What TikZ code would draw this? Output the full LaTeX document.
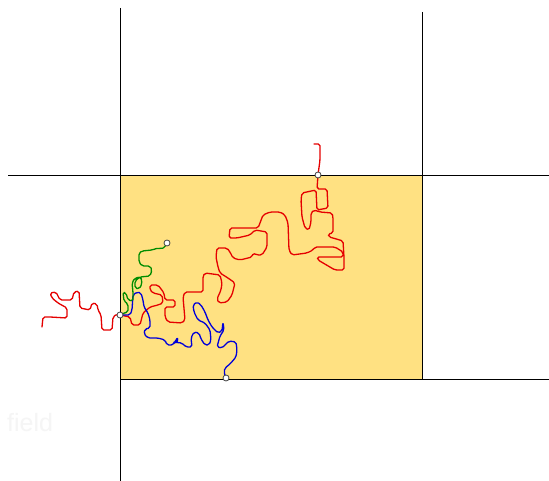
\documentclass[tikz,border=0pt]{standalone}
\usepackage{fontspec}
\setsansfont{Liberation Sans}
\begin{document}
\begin{tikzpicture}[x=1pt,y=-1pt,
  axis/.style={draw=black,line width=0.9pt},
  walk/.style={line width=1.3pt,rounded corners=1.8pt,line join=round,line cap=round},
  dot/.style={circle,draw=black!75,fill=white,line width=0.8pt,inner sep=0pt,minimum size=6pt}]
\useasboundingbox (0,0) rectangle (549,481);
\fill[white] (0,0) rectangle (549,481);
% field region
\filldraw[fill={rgb,255:red,255;green,225;blue,130},draw=black!70,line width=0.6pt] (120,175) rectangle (422,379);
% lines
\draw[axis] (120,8) -- (120,481);
\draw[axis] (422,12) -- (422,379);
\draw[axis] (8,175) -- (549,175);
\draw[axis] (120,379) -- (549,379);
% faint label
\node[anchor=base west,inner sep=0pt,text=black!4,font=\sffamily\fontsize{25}{28}\selectfont] (lbl) at (7,431) {field};
% red walk
\draw[walk,red!90!black] (314,144) -- (320,144) -- (320,160) -- (318,175) -- (317,189) -- (327,189) -- (328,208) -- (317,210) -- (316,190) -- (302,193) -- (301,200) -- (302,217) -- (305,228) -- (309,230) -- (311,222) -- (311,213) -- (314,210) -- (320,212) -- (332,213) -- (333,217) -- (333,233) -- (328,234) -- (329,237) -- (333,238) -- (343,241) -- (344,257) -- (344,270) -- (335,270) -- (318,260) -- (317,257) -- (343,257) -- (343,252) -- (335,247) -- (315,247) -- (313,250) -- (307,253) -- (292,255) -- (289,250) -- (288,223) -- (285,215) -- (280,212) -- (270,212) -- (263,215) -- (260,223) -- (258,228) -- (230,228) -- (229,238) -- (237,238) -- (250,235) -- (255,230) -- (267,232) -- (267,247) -- (262,255) -- (257,255) -- (253,253) -- (252,257) -- (240,260) -- (233,258) -- (230,252) -- (227,248) -- (217,248) -- (216,257) -- (218,267) -- (220,273) -- (228,278) -- (235,283) -- (232,295) -- (227,302) -- (219,303) -- (217,299) -- (221,290) -- (222,283) -- (220,275) -- (205,273) -- (203,276) -- (203,292) -- (185,292) -- (183,297) -- (185,320) -- (182,323) -- (168,322) -- (165,317) -- (165,307) -- (175,307) -- (175,300) -- (165,300) -- (164,293) -- (158,285) -- (150,285) -- (150,290) -- (153,293) -- (162,295) -- (163,303) -- (158,305) -- (150,307) -- (143,313) -- (140,325) -- (132,325) -- (130,317) -- (120,315) -- (117,314) -- (113,317) -- (112,330) -- (102,330) -- (101,315) -- (98,310) -- (97,304) -- (92,303) -- (90,310) -- (80,308) -- (79,291) -- (74,292) -- (72,300) -- (60,300) -- (56,292) -- (50,293) -- (52,298) -- (58,303) -- (67,308) -- (67,318) -- (50,317) -- (43,317) -- (42,327);
% blue walk
\draw[walk,blue!85!black] (120,315) -- (130,315) -- (132,310) -- (133,295) -- (137,292) -- (141,293) -- (143,300) -- (144,307) -- (148,313) -- (150,320) -- (150,328) -- (145,329) -- (144,334) -- (148,338) -- (158,338) -- (165,340) -- (167,345) -- (173,345) -- (176,340) -- (178,337) -- (177,343) -- (172,342) -- (182,343) -- (186,347) -- (192,347) -- (191,338) -- (194,332) -- (199,333) -- (201,339) -- (205,345) -- (209,345) -- (211,340) -- (210,330) -- (205,323) -- (198,320) -- (194,312) -- (193,305) -- (197,302) -- (201,305) -- (205,312) -- (208,320) -- (212,327) -- (218,333) -- (222,331) -- (223,322) -- (224,330) -- (220,336) -- (217,347) -- (222,348) -- (229,341) -- (236,342) -- (237,350) -- (236,357) -- (230,364) -- (225,368) -- (224,372) -- (226,378);
% green walk
\draw[walk,green!55!black] (120,315) -- (124,313) -- (128,312) -- (128,304) -- (124,301) -- (123,292) -- (126,293) -- (128,300) -- (133,301) -- (133,292) -- (132,283) -- (135,278) -- (141,277) -- (142,284) -- (139,289) -- (135,288) -- (135,281) -- (140,277) -- (150,276) -- (152,270) -- (150,266) -- (142,266) -- (139,262) -- (139,253) -- (142,251) -- (152,250) -- (158,248) -- (161,249) -- (165,247) -- (167,243);
% boundary points
\node[dot] (top) at (318,175) {};
\node[dot] (left) at (120,315) {};
\node[dot] (bottom) at (226,378) {};
\node[dot] (end) at (167,243) {};
\end{tikzpicture}
\end{document}
